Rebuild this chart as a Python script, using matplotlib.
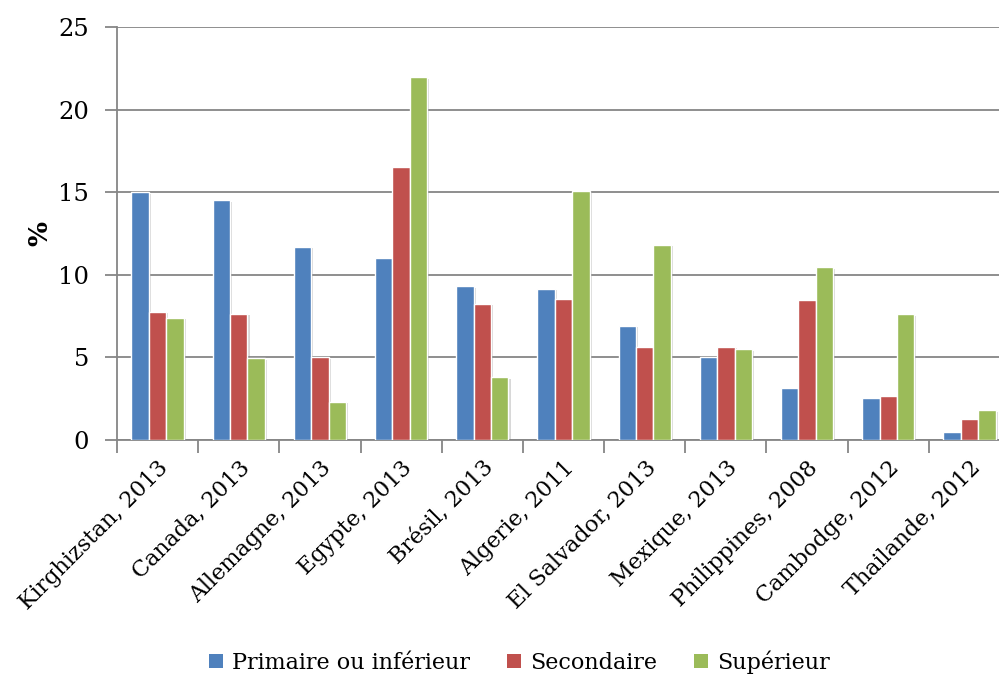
import matplotlib
matplotlib.use("Agg")
import matplotlib.pyplot as plt
import matplotlib.patheffects as pe
import numpy as np

countries = ["Kirghizstan, 2013", "Canada, 2013", "Allemagne, 2013", "Egypte, 2013",
             "Brésil, 2013", "Algerie, 2011", "El Salvador, 2013", "Mexique, 2013",
             "Philippines, 2008", "Cambodge, 2012", "Thailande, 2012"]
primaire = [15.0, 14.5, 11.7, 11.0, 9.3, 9.15, 6.9, 5.05, 3.15, 2.55, 0.5]
secondaire = [7.75, 7.65, 5.0, 16.55, 8.25, 8.55, 5.6, 5.65, 8.45, 2.65, 1.25]
superieur = [7.4, 4.95, 2.3, 21.95, 3.8, 15.05, 11.8, 5.5, 10.45, 7.6, 1.8]
series_names = ["Primaire ou inférieur", "Secondaire", "Supérieur"]
colors = ["#4F81BD", "#C0504D", "#9BBB59"]
yticks = [0, 5, 10, 15, 20, 25]

plt.rcParams["font.family"] = ["DejaVu Serif"]

fig = plt.figure(figsize=(9.99, 6.75), dpi=100)
ax = fig.add_axes([117 / 999, 1 - 440 / 675, 893 / 999, 413 / 675])

x = np.arange(len(countries))
w = 0.215
shadow = [pe.SimplePatchShadow(offset=(1.5, -1.0), shadow_rgbFace="#808080", alpha=0.3),
          pe.Normal()]
for i, (vals, c, name) in enumerate(zip([primaire, secondaire, superieur], colors, series_names)):
    bars = ax.bar(x + (i - 1) * w, vals, width=w, color=c, edgecolor="white",
                  linewidth=1.0, label=name, zorder=3)
    for b in bars:
        b.set_path_effects(shadow)

ax.set_xlim(-0.5, len(countries) - 0.5)
ax.set_ylim(0, 25)
ax.set_yticks(yticks)
ax.yaxis.grid(True, color="#868686", linewidth=1.3, zorder=0)
ax.set_axisbelow(True)

for s in ["top", "right"]:
    ax.spines[s].set_visible(False)
for s in ["left", "bottom"]:
    ax.spines[s].set_color("#868686")
    ax.spines[s].set_linewidth(1.3)

ax.set_xticks(np.arange(len(countries) + 1) - 0.5, minor=False)
ax.set_xticklabels([])
ax.set_xticks(x, minor=True)
ax.set_xticklabels(countries, minor=True, rotation=45, ha="right",
                   rotation_mode="anchor", fontsize=16)
ax.tick_params(axis="x", which="major", length=9, width=1.3, color="#868686", direction="out")
ax.tick_params(axis="x", which="minor", length=0, pad=12)
ax.tick_params(axis="y", length=9, width=1.3, color="#868686", direction="out",
               labelsize=17.5, pad=11)

ax.set_ylabel("%", fontsize=19, fontweight="bold", labelpad=4)

leg = fig.legend(loc="center", bbox_to_anchor=(0.52, 1 - 662 / 675), ncol=3,
                 frameon=False, fontsize=16, handlelength=0.6, handleheight=0.6,
                 handletextpad=0.4, columnspacing=1.7)
for h in leg.legend_handles:
    h.set_edgecolor("none")
    h.set_path_effects([])

fig.savefig("out.png", dpi=100)
